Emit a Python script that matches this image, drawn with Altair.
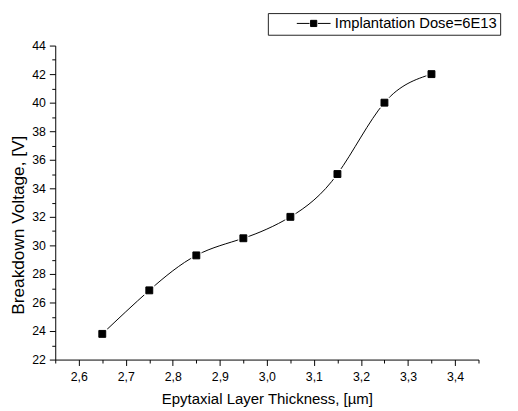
import altair as alt
import pandas as pd

# ---- data ----
thickness = [2.65, 2.75, 2.85, 2.95, 3.05, 3.15, 3.25, 3.35]
voltage = [23.8, 26.85, 29.3, 30.5, 32.0, 35.0, 40.0, 42.0]
series_name = "Implantation Dose=6E13"

x_ticks = [2.55, 2.6, 2.65, 2.7, 2.75, 2.8, 2.85, 2.9, 2.95, 3.0,
           3.05, 3.1, 3.15, 3.2, 3.25, 3.3, 3.35, 3.4, 3.45]
y_ticks = list(range(22, 45))

df = pd.DataFrame({"x": thickness, "y": voltage, "series": [series_name] * len(thickness)})

FONT = "Liberation Sans"

x_major = "abs(datum.value*10 - round(datum.value*10)) < 0.001"
y_major = "datum.value % 2 == 0"

x_enc = alt.X(
    "x:Q",
    scale=alt.Scale(domain=[2.55, 3.45], nice=False, zero=False),
    axis=alt.Axis(
        values=x_ticks,
        labelExpr=f"({x_major}) ? replace(format(datum.value, '.1f'), '.', ',') : ''",
        tickSize={"condition": {"test": x_major, "value": 6}, "value": 3.5},
        labelPadding=5,
        labelFontSize=12.5,
        labelOverlap=False,
        titleFontSize=15.2,
        titlePadding=9,
        grid=False,
    ),
    title="Epytaxial Layer Thickness, [µm]",
)
y_enc = alt.Y(
    "y:Q",
    scale=alt.Scale(domain=[22, 44], nice=False, zero=False),
    axis=alt.Axis(
        values=y_ticks,
        labelExpr=f"({y_major}) ? datum.label : ''",
        tickSize={"condition": {"test": y_major, "value": 6}, "value": 3.5},
        labelPadding=4,
        labelFontSize=12.5,
        labelOverlap=False,
        titleFontSize=17.5,
        titleX=-32,
        titleY=182,
        titleBaseline="alphabetic",
        grid=False,
    ),
    title="Breakdown Voltage, [V]",
)

base = alt.Chart(df)

line = base.mark_line(color="black", strokeWidth=1, interpolate="natural").encode(x=x_enc, y=y_enc)
halo = base.mark_square(color="white", size=110, opacity=1, filled=True).encode(x=x_enc, y=y_enc)

legend_symbol = "M2.7,0H4.55M5.75,0H7.6M4.7,-0.45H5.6V0.45H4.7Z"

pts = base.mark_square(size=49, opacity=1, filled=True, stroke="black", strokeWidth=1).encode(
    x=x_enc,
    y=y_enc,
    color=alt.Color(
        "series:N",
        scale=alt.Scale(range=["black"]),
        legend=alt.Legend(
            title=None,
            orient="none",
            legendX=216,
            legendY=-33,
            padding=3,
            strokeColor="#222222",
            fillColor="white",
            symbolType=legend_symbol,
            symbolSize=196,
            symbolFillColor="black",
            symbolStrokeColor="black",
            symbolStrokeWidth=1,
            symbolOpacity=1,
            labelFontSize=15,
            labelFont=FONT,
            labelColor="black",
            labelOffset=50,
            labelLimit=400,
            labelExpr="datum.label + '\u00a0\u00a0\u00a0\u00a0\u00a0'",
        ),
    ),
)

chart = (
    alt.layer(line, halo, pts)
    .properties(
        width=430,
        height=319,
        autosize=alt.AutoSizeParams(type="none"),
        padding={"left": 48, "top": 35, "right": 32, "bottom": 45},
        background="white",
    )
    .configure_view(stroke=None)
    .configure_axis(
        labelFont=FONT,
        titleFont=FONT,
        labelColor="black",
        titleColor="black",
        domainColor="black",
        tickColor="black",
        domainWidth=1,
        tickWidth=1,
        titleFontWeight="normal",
    )
)

chart.save("out.html", embed_options={"renderer": "svg", "actions": False})
